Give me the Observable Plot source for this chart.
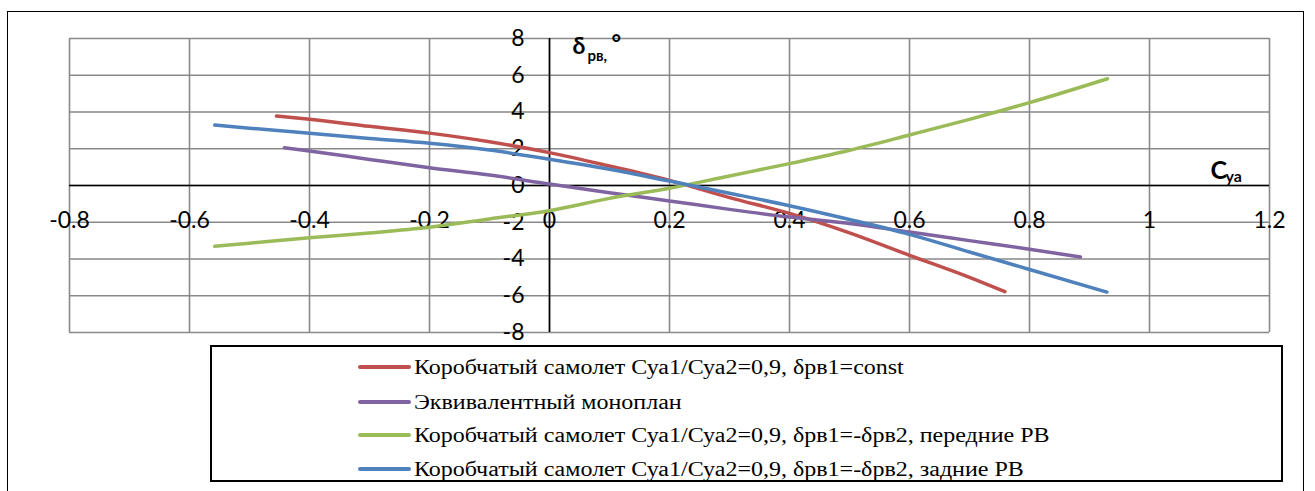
<!DOCTYPE html>
<html>
<head>
<meta charset="utf-8">
<script src="https://cdn.jsdelivr.net/npm/d3@7"></script>
<script src="https://cdn.jsdelivr.net/npm/@observablehq/plot@0.6"></script>
<style>
  body { margin: 0; background: #fff; }
  #wrap { position: relative; width: 1315px; height: 491px; overflow: hidden; background: #fff; }
  #frame { position: absolute; left: 7px; top: 11px; width: 1295px; height: 520px; border: 1.5px solid #000; }
  #chart { position: absolute; left: 0; top: 0; }
  #legend { position: absolute; left: 210px; top: 345px; width: 1069px; height: 133px; border: 2px solid #000; background: #fff; color: #000; }
  .row { position: absolute; left: 146px; height: 30px; display: flex; align-items: center; white-space: nowrap; }
  .row span { font-family: "Liberation Serif", "Tinos", "Times New Roman", "DejaVu Serif", serif; font-size: 20px;
              display: inline-block; transform: scaleX(1.2); transform-origin: left center; }
  .sw { width: 53px; height: 4px; margin-right: 3px; border-radius: 2px; }
</style>
</head>
<body>
<div id="wrap">
  <div id="frame"></div>
  <div id="chart"></div>
  <div id="legend"></div>
</div>
<script>
// Axis ticks
const xTicks = [-0.8, -0.6, -0.4, -0.2, 0, 0.2, 0.4, 0.6, 0.8, 1, 1.2];
const xTickLabels = ["-0.8", "-0.6", "-0.4", "-0.2", "0", "0.2", "0.4", "0.6", "0.8", "1", "1.2"];
const yTicks = [8, 6, 4, 2, 0, -2, -4, -6, -8];
const yTickLabels = ["8", "6", "4", "2", "0", "-2", "-4", "-6", "-8"];

// Series names
const seriesNames = [
  "Коробчатый самолет Суа1/Суа2=0,9, δрв1=const",
  "Эквивалентный моноплан",
  "Коробчатый самолет Суа1/Суа2=0,9, δрв1=-δрв2, передние РВ",
  "Коробчатый самолет Суа1/Суа2=0,9, δрв1=-δрв2, задние РВ"
];
const seriesColors = ["#C0504D", "#8064A2", "#9BBB59", "#4F81BD"];

// Series 1: box plane, δрв1=const
const cyaConst = [-0.455, -0.4, -0.3, -0.2, -0.1, 0, 0.1, 0.2, 0.3, 0.4, 0.5, 0.6, 0.7, 0.759];
const deltaConst = [3.78, 3.6, 3.22, 2.85, 2.38, 1.79, 1.06, 0.28, -0.66, -1.52, -2.58, -3.8, -5.0, -5.78];

// Series 2: equivalent monoplane
const cyaMono = [-0.442, -0.4, -0.3, -0.2, -0.1, 0, 0.1, 0.2, 0.3, 0.4, 0.5, 0.6, 0.7, 0.8, 0.885];
const deltaMono = [2.06, 1.88, 1.42, 0.97, 0.57, 0.08, -0.39, -0.84, -1.3, -1.72, -2.07, -2.53, -3.0, -3.47, -3.89];

// Series 3: box plane, δрв1=-δрв2, front elevators
const cyaFront = [-0.558, -0.5, -0.4, -0.3, -0.2, -0.1, 0, 0.1, 0.2, 0.3, 0.4, 0.5, 0.6, 0.7, 0.8, 0.93];
const deltaFront = [-3.31, -3.14, -2.84, -2.58, -2.27, -1.82, -1.37, -0.7, -0.15, 0.52, 1.19, 1.92, 2.75, 3.6, 4.51, 5.81];

// Series 4: box plane, δрв1=-δрв2, rear elevators
const cyaRear = [-0.558, -0.5, -0.4, -0.3, -0.2, -0.1, 0, 0.1, 0.2, 0.3, 0.4, 0.5, 0.6, 0.7, 0.8, 0.929];
const deltaRear = [3.29, 3.12, 2.84, 2.56, 2.3, 1.93, 1.43, 0.88, 0.24, -0.42, -1.1, -1.85, -2.66, -3.62, -4.57, -5.8];

const seriesX = [cyaConst, cyaMono, cyaFront, cyaRear];
const seriesY = [deltaConst, deltaMono, deltaFront, deltaRear];

const data = [];
seriesNames.forEach((name, i) => {
  seriesX[i].forEach((x, j) => data.push({series: name, x, y: seriesY[i][j]}));
});

const gridColor = "#898989";

const plot = Plot.plot({
  width: 1315,
  height: 345,
  marginLeft: 69,
  marginRight: 46,
  marginTop: 38,
  marginBottom: 13,
  style: {fontFamily: "Lato, 'Open Sans', sans-serif", fontSize: "23px", background: "transparent", overflow: "visible"},
  x: {domain: [-0.8, 1.2], axis: null},
  y: {domain: [-8, 8], axis: null},
  color: {domain: seriesNames, range: seriesColors},
  marks: [
    Plot.ruleX(xTicks, {stroke: gridColor, strokeWidth: 1.6}),
    Plot.ruleY(yTicks, {stroke: gridColor, strokeWidth: 1.6}),
    Plot.ruleY([0], {stroke: "#000", strokeWidth: 1.6}),
    Plot.ruleX([0], {stroke: "#000", strokeWidth: 1.6}),
    Plot.text(xTicks, {x: d => d, y: () => 0, text: (d, i) => xTickLabels[i], dy: 35, fill: "#000"}),
    Plot.text(yTicks, {x: () => 0, y: d => d, text: (d, i) => yTickLabels[i], dx: -25, textAnchor: "end", fill: "#000"}),
    Plot.line(data, {x: "x", y: "y", z: "series", stroke: "series", strokeWidth: 3.5, curve: "monotone-x", strokeLinecap: "round"}),
    // axis titles
    Plot.text([{x: 0, y: 8}], {x: "x", y: "y", text: () => "δ", dx: 23, dy: 8, textAnchor: "start", fontWeight: "bold", fontSize: 23, fill: "#000"}),
    Plot.text([{x: 0, y: 8}], {x: "x", y: "y", text: () => "рв,", dx: 38, dy: 18, textAnchor: "start", fontWeight: "bold", fontSize: 15, fill: "#000"}),
    Plot.text([{x: 0, y: 8}], {x: "x", y: "y", text: () => "°", dx: 62, dy: 5, textAnchor: "start", fontWeight: "bold", fontSize: 23, fill: "#000"}),
    Plot.text([{x: 1.1, y: 0}], {x: "x", y: "y", text: () => "C", dx: 1, dy: -15, textAnchor: "start", fontWeight: "bold", fontSize: 25, fill: "#000"}),
    Plot.text([{x: 1.1, y: 0}], {x: "x", y: "y", text: () => "ya", dx: 16, dy: -9, textAnchor: "start", fontWeight: "bold", fontSize: 16, fill: "#000"})
  ]
});
document.getElementById("chart").appendChild(plot);

// Legend
const legend = document.getElementById("legend");
const rowTops = [5, 40, 73, 107];
seriesNames.forEach((name, i) => {
  const row = document.createElement("div");
  row.className = "row";
  row.style.top = rowTops[i] + "px";
  const sw = document.createElement("div");
  sw.className = "sw";
  sw.style.background = seriesColors[i];
  const t = document.createElement("span");
  t.textContent = name;
  row.appendChild(sw);
  row.appendChild(t);
  legend.appendChild(row);
});
</script>
</body>
</html>
